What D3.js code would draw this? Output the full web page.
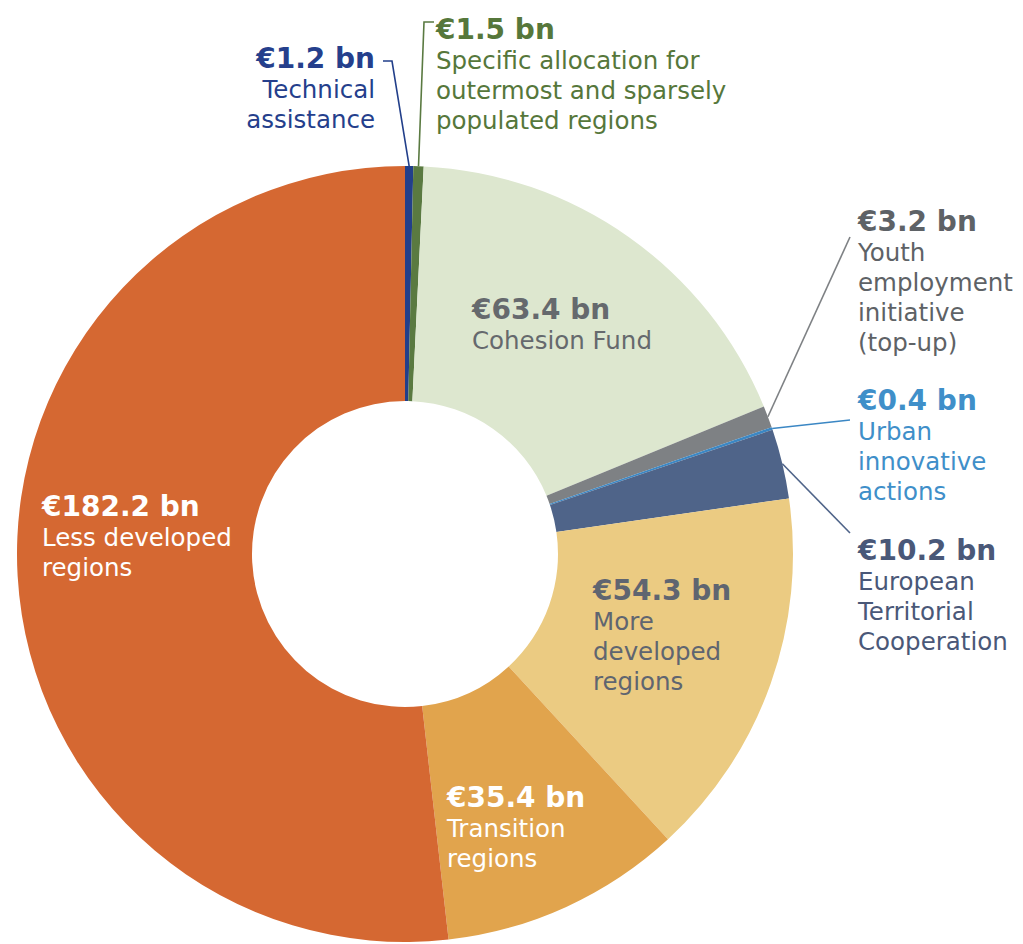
<!DOCTYPE html>
<html>
<head>
<meta charset="utf-8">
<script src="https://cdn.jsdelivr.net/npm/d3@7"></script>
<style>
  html, body { margin: 0; padding: 0; background: #fff; }
  svg { display: block; font-family: "DejaVu Sans", "Open Sans", sans-serif; }
</style>
</head>
<body>
<div class="demo"></div>
<script>
// data (clockwise from 12 o'clock)
var categories = ["Technical assistance", "Specific allocation for outermost and sparsely populated regions",
  "Cohesion Fund", "Youth employment initiative (top-up)", "Urban innovative actions",
  "European Territorial Cooperation", "More developed regions", "Transition regions", "Less developed regions"];
var values = [1.2, 1.5, 63.4, 3.2, 0.4, 10.2, 54.3, 35.4, 182.2];
var labelLines = [["Technical", "assistance"], ["Specific allocation for", "outermost and sparsely", "populated regions"],
  ["Cohesion Fund"], ["Youth", "employment", "initiative", "(top-up)"], ["Urban", "innovative", "actions"],
  ["European", "Territorial", "Cooperation"], ["More", "developed", "regions"], ["Transition", "regions"],
  ["Less developed", "regions"]];

var sliceColors = ["#223f8a", "#5a7a41", "#dde7cf", "#7e8184", "#3b87c4", "#4f6489", "#ebcb82", "#e1a44d", "#d56832"];
var textColors = ["#253f8c", "#56773b", "#65696d", "#5e6266", "#3f8fc9", "#4a5878", "#5f6570", "#ffffff", "#ffffff"];

var w = 1023, h = 944;
var cx = 405, cy = 554, R = 388, r0 = 153;

// label placement: x, first baseline, anchor, leader start points (if any)
var labelPos = [
  {x: 375, y: 68, anchor: 'end', leader: [[383, 61], [392, 61]]},
  {x: 436, y: 39, anchor: 'start', leader: [[434, 22], [424, 22]]},
  {x: 472, y: 319, anchor: 'start'},
  {x: 858, y: 231, anchor: 'start', leader: [[850, 237]]},
  {x: 858, y: 410, anchor: 'start', leader: [[850, 420]]},
  {x: 858, y: 560, anchor: 'start', leader: [[850, 533]]},
  {x: 593, y: 600, anchor: 'start'},
  {x: 447, y: 807, anchor: 'start'},
  {x: 42, y: 516, anchor: 'start'}
];

var dataset = categories.map(function(c, i){
  return {name: c, value: values[i], lines: labelLines[i], color: sliceColors[i], tcolor: textColors[i], pos: labelPos[i]};
});

var svg = d3.select('.demo').append('svg').attr('width', w).attr('height', h);

var pie = d3.pie().sort(null).value(function(d){ return d.value; });
var arc = d3.arc().innerRadius(r0).outerRadius(R);
var edge = d3.arc().innerRadius(R).outerRadius(R); // point on the outer rim

var arcs = pie(dataset);
var g = svg.append('g').attr('transform', 'translate(' + cx + ',' + cy + ')');

g.selectAll('path').data(arcs).enter()
  .append('path')
  .attr('d', arc)
  .attr('fill', function(d){ return d.data.color; });

// leader lines
var fmt = d3.format('.1f');
svg.append('g').selectAll('polyline').data(arcs.filter(function(d){ return d.data.pos.leader; })).enter()
  .append('polyline')
  .attr('points', function(d){
    var p = edge.centroid(d);
    var pts = d.data.pos.leader.concat([[cx + p[0], cy + p[1]]]);
    return pts.map(function(q){ return q.join(','); }).join(' ');
  })
  .attr('fill', 'none')
  .attr('stroke', function(d){ return d.data.color; })
  .attr('stroke-width', 1.6);

// labels
var lab = svg.append('g').selectAll('text').data(dataset).enter()
  .append('text')
  .attr('text-anchor', function(d){ return d.pos.anchor; })
  .attr('fill', function(d){ return d.tcolor; });

lab.append('tspan')
  .attr('x', function(d){ return d.pos.x; })
  .attr('y', function(d){ return d.pos.y; })
  .attr('font-size', '28px')
  .attr('font-weight', 'bold')
  .text(function(d){ return '€' + fmt(d.value) + ' bn'; });

lab.each(function(d){
  var t = d3.select(this);
  d.lines.forEach(function(line, k){
    t.append('tspan')
      .attr('x', d.pos.x)
      .attr('y', d.pos.y + 30 * (k + 1))
      .attr('font-size', '24.5px')
      .text(line);
  });
});
</script>
</body>
</html>
